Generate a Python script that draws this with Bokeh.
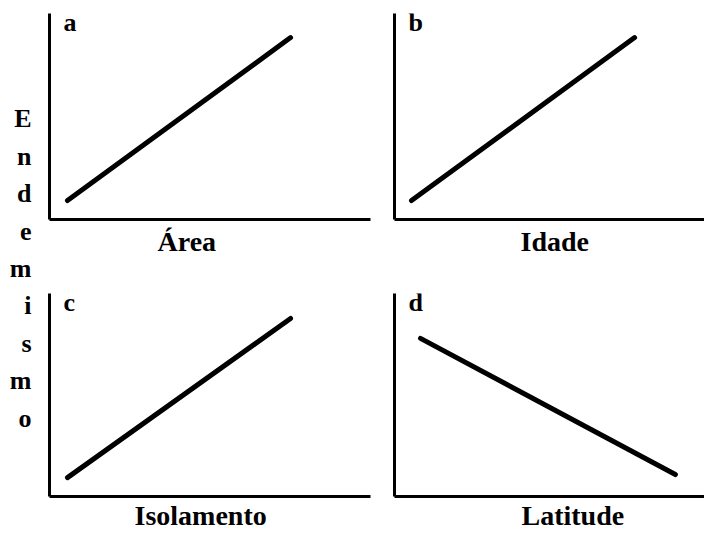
from bokeh.plotting import figure
from bokeh.layouts import row, column
from bokeh.models import Range1d, FixedTicker, Label, Title
from bokeh.embed import file_html
from bokeh.resources import INLINE

# ---- data ----
panel_tags = ["a", "b", "c", "d"]
x_titles = ["Área", "Idade", "Isolamento", "Latitude"]
line_x0 = [0.56, 0.53, 0.56, 0.81]
line_x1 = [7.51, 7.48, 7.51, 8.75]
line_y0 = [0.92, 0.92, 0.93, 7.79]
line_y1 = [8.83, 8.83, 8.77, 1.08]
y_title = "Endemismo"

# ---- layout / styling (not data) ----
FONT = "Liberation Serif"
title_offset = [108, 126, 85, 127]   # px from the frame's left edge
title_standoff = [12, 12, 7, 7]
tag_pos_y = [9.56, 9.56, 9.56, 9.56]


def clean_axis(ax):
    ax.ticker = FixedTicker(ticks=[])
    ax.major_tick_out = 0
    ax.major_tick_in = 0
    ax.minor_tick_out = 0
    ax.minor_tick_in = 0
    ax.major_label_standoff = 0
    ax.major_label_text_font_size = "0px"
    ax.axis_line_width = 3
    ax.axis_line_color = "black"
    ax.axis_label_text_font = FONT
    ax.axis_label_text_font_style = "bold"
    ax.axis_label_text_color = "black"


def make_panel(i, width, height, frame_w, bl, br, bt, bb):
    xmax = 10 * frame_w / 321
    p = figure(width=width, height=height,
               x_range=Range1d(0, xmax), y_range=Range1d(0, 10),
               output_backend="svg", toolbar_location=None,
               min_border_left=bl, min_border_right=br,
               min_border_top=bt, min_border_bottom=bb)
    p.outline_line_color = None
    p.xgrid.visible = False
    p.ygrid.visible = False
    for ax in list(p.xaxis) + list(p.yaxis):
        clean_axis(ax)
    p.add_layout(Title(text=x_titles[i], align="left", offset=title_offset[i],
                       vertical_align="top", standoff=title_standoff[i],
                       text_font=FONT, text_font_style="bold",
                       text_font_size="28px", text_color="black",
                       text_line_height=1.0), "below")
    p.line(x=[line_x0[i], line_x1[i]], y=[line_y0[i], line_y1[i]],
           line_width=5, line_color="black", line_cap="round")
    p.add_layout(Label(x=0.44, y=tag_pos_y[i], text=panel_tags[i],
                       text_font=FONT, text_font_style="bold",
                       text_font_size="26px", text_color="black",
                       text_baseline="alphabetic"))
    return p


a = make_panel(0, 348, 275, 321, 9, 18, 13, 56)
b = make_panel(1, 316, 275, 310, 6, 0, 13, 56)
c = make_panel(2, 348, 261, 321, 9, 18, 18, 39)
d = make_panel(3, 316, 261, 310, 6, 0, 18, 39)

left = figure(width=40, height=536, x_range=Range1d(0, 1), y_range=Range1d(0, 1),
              output_backend="svg", toolbar_location=None,
              min_border_left=31, min_border_right=0,
              min_border_top=0, min_border_bottom=0)
left.outline_line_color = None
left.xgrid.visible = False
left.ygrid.visible = False
left.xaxis.visible = False
ya = left.yaxis[0]
clean_axis(ya)
ya.axis_line_color = None
ya.axis_label = "\n".join(y_title)
ya.axis_label_orientation = "horizontal"
ya.axis_label_text_font_size = "26px"
ya.axis_label_text_line_height = 1.29
ya.axis_label_standoff = 0

layout = row(left, column(row(a, b), row(c, d)))

open("out.html", "w").write(file_html(layout, INLINE))
